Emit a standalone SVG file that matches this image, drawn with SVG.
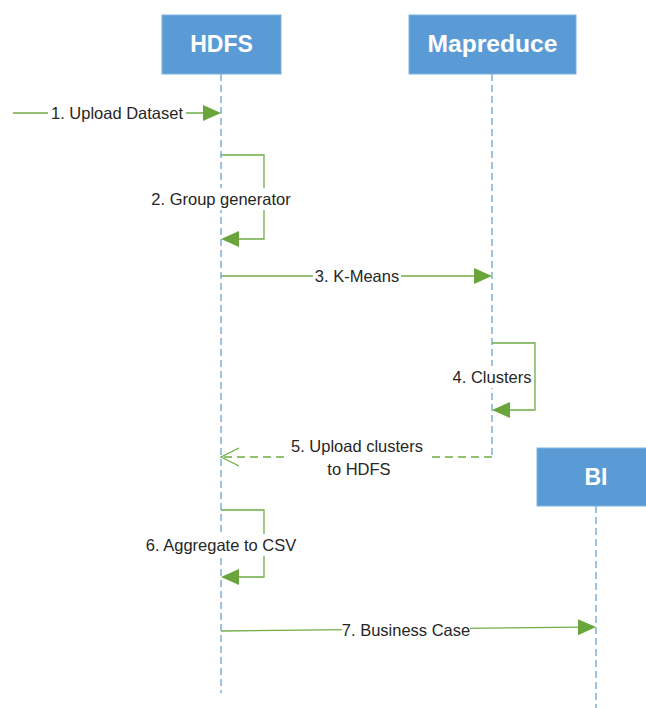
<svg xmlns="http://www.w3.org/2000/svg" width="646" height="708" viewBox="0 0 646 708">
<style>
.box{fill:#5B9BD5;stroke:#7fb1df;stroke-width:1}
.title{font-family:"Liberation Sans",Arial,sans-serif;font-weight:bold;font-size:23px;fill:#ffffff;text-anchor:middle}
.life{stroke:#5B9BD5;stroke-width:1.2;stroke-dasharray:7 4;fill:none}
.msg{stroke:#70AD47;stroke-width:1.3;fill:none}
.dash{stroke:#70AD47;stroke-width:1.3;fill:none;stroke-dasharray:8 5}
.head{fill:#6AA53C}
.lbl{font-family:"Liberation Sans",Arial,sans-serif;font-size:16.5px;fill:#262626;text-anchor:middle}
.bg{fill:#ffffff}
</style>
<rect width="646" height="708" fill="#ffffff"/>
<g id="lifelines">
<line class="life" x1="221" y1="74" x2="221" y2="693"/>
<line class="life" x1="492" y1="74" x2="492" y2="457"/>
<line class="life" x1="596" y1="506" x2="596" y2="708"/>
</g>
<g id="HDFS"><rect class="box" x="162" y="15" width="119" height="59"/><text class="title" x="221.5" y="52">HDFS</text></g>
<g id="Mapreduce"><rect class="box" x="409" y="15" width="167" height="59"/><text class="title" x="492.5" y="52" textLength="130" lengthAdjust="spacingAndGlyphs">Mapreduce</text></g>
<g id="BI"><rect class="box" x="537" y="448" width="115" height="58"/><text class="title" x="596" y="485">BI</text></g>
<g id="connectors">
<line class="msg" x1="13" y1="113" x2="205" y2="113"/>
<polygon class="head" points="221,113 203,105 203,121"/>
<rect class="bg" x="48" y="103" width="138" height="20"/>
<text class="lbl" x="117" y="119">1. Upload Dataset</text>
<polyline class="msg" points="221,155 264,155 264,239 236,239"/>
<polygon class="head" points="221,239 239,231 239,247"/>
<rect class="bg" x="147" y="188" width="150" height="22"/>
<text class="lbl" x="221" y="205">2. Group generator</text>
<line class="msg" x1="221" y1="276" x2="476" y2="276"/>
<polygon class="head" points="492,276 474,268 474,284"/>
<rect class="bg" x="313" y="266" width="88" height="20"/>
<text class="lbl" x="357" y="282">3. K-Means</text>
<polyline class="msg" points="492,343 535,343 535,410 507,410"/>
<polygon class="head" points="492,410 510,402 510,418"/>
<rect class="bg" x="450" y="366" width="84" height="22"/>
<text class="lbl" x="492" y="383">4. Clusters</text>
<line class="dash" x1="492" y1="457" x2="222" y2="457"/>
<polyline class="msg" points="239,448 221,457 239,466"/>
<rect class="bg" x="287" y="436" width="140" height="42"/>
<text class="lbl" x="357" y="452">5. Upload clusters</text>
<text class="lbl" x="359" y="475">to HDFS</text>
<polyline class="msg" points="221,510 264,510 264,577 236,577"/>
<polygon class="head" points="221,577 239,569 239,585"/>
<rect class="bg" x="144" y="534" width="154" height="22"/>
<text class="lbl" x="221" y="551">6. Aggregate to CSV</text>
<line class="msg" x1="221" y1="631" x2="580" y2="627.2"/>
<polygon class="head" points="596,627 578,619.2 578,635.2"/>
<rect class="bg" x="342" y="620" width="128" height="20"/>
<text class="lbl" x="406" y="636">7. Business Case</text>
</g>
</svg>
